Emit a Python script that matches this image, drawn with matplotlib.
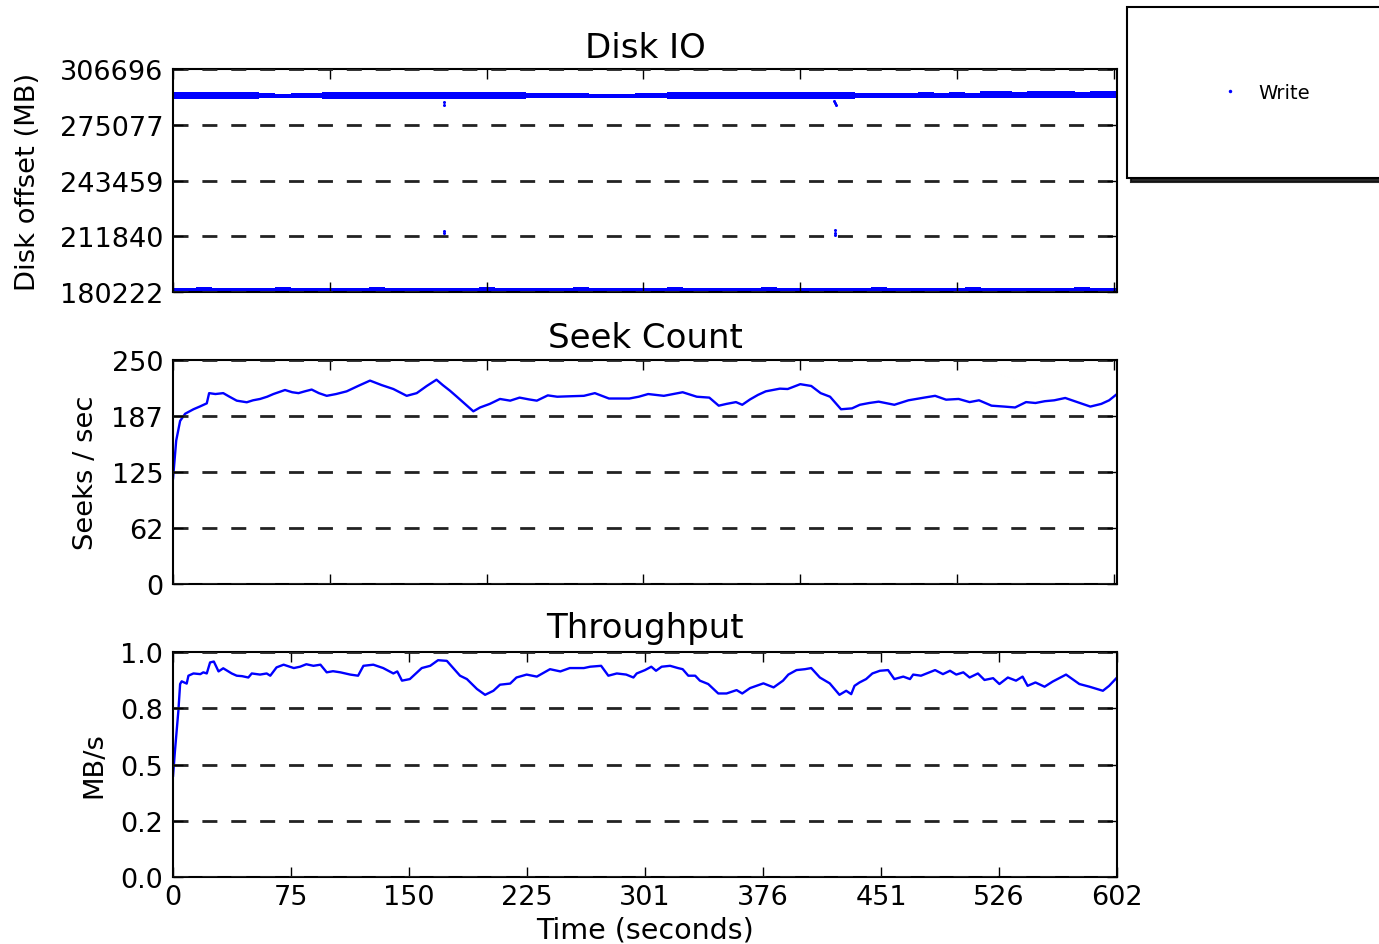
import matplotlib
matplotlib.use("Agg")
import matplotlib.pyplot as plt
from matplotlib.lines import Line2D
from matplotlib.ticker import FormatStrFormatter
import numpy as np

# ---- data ----
time_max = 602
disk_lo, disk_hi = 180222, 306696
seek_max = 250
tput_max = 1.0

# write band samples, one every 10 s
band_t = list(range(0, 601, 10))
band_hi = [292700, 292500, 292800, 292600, 292700, 292400, 291800, 291600, 291700, 291900,
           292600, 292800, 292500, 292700, 292600, 292400, 292700, 292600, 292800, 292500,
           292600, 292700, 292400, 292100, 291900, 292200, 291700, 291600, 291500, 291600,
           291800, 291700, 292500, 292700, 292600, 292800, 292500, 292700, 292600, 292800,
           292700, 292500, 292600, 292700, 291900, 291800, 291900, 292200, 292300, 292100,
           292400, 292200, 292900, 293000, 292800, 293100, 292900, 293000, 292800, 293100, 292900]
band_lo = [290900, 291000, 290800, 291100, 290900, 291000, 291400, 291300, 291200, 291400,
           290900, 291100, 290800, 291000, 290900, 291100, 290800, 291000, 290900, 291100,
           290800, 291000, 291100, 291300, 291200, 291400, 291300, 291200, 291300, 291200,
           291400, 291300, 291000, 290900, 291100, 290800, 291000, 290900, 291100, 290900,
           291000, 291100, 290800, 291000, 291300, 291400, 291200, 291300, 291200, 291400,
           291300, 291200, 291400, 291300, 291500, 291400, 291300, 291500, 291400, 291300, 291400]
band_low = [181600, 181500, 181700, 181600, 181400, 181600, 181500, 181700, 181600, 181500,
            181600, 181400, 181500, 181700, 181600, 181500, 181600, 181400, 181600, 181500,
            181700, 181500, 181600, 181400, 181500, 181600, 181700, 181500, 181600, 181400,
            181600, 181500, 181700, 181600, 181500, 181400, 181600, 181500, 181700, 181600,
            181500, 181600, 181400, 181500, 181600, 181700, 181500, 181600, 181400, 181600,
            181500, 181700, 181600, 181500, 181600, 181400, 181600, 181500, 181700, 181600, 181500]

# stray writes
stray_t = [172.5, 172.5, 172.5, 172.5, 421.5, 422.0, 422.5, 422.0, 422.0, 422.0]
stray_mb = [288100, 286300, 215000, 213700, 288600, 287400, 286300, 215500, 213900, 212300]

# seeks per second
seek_t = [0, 2, 4.5, 7.7, 13, 17, 21.5, 23, 27, 32, 36, 40.6, 47, 51, 55.5, 60, 64, 71.4,
          76, 80, 84, 88.4, 93, 98, 104, 110.7, 118, 125.6, 133, 140.5, 149, 155.4, 161.8,
          168, 172, 176.6, 181, 185, 191.5, 195.8, 202, 208.5, 215, 221, 227, 232, 239, 245,
          253, 262, 269, 278, 291, 297, 303, 313, 325, 334, 342, 348, 353, 359, 363, 368,
          373, 378, 387, 392, 400, 407, 413, 419, 426, 433, 438, 444, 450, 460, 469, 479,
          486, 493, 501, 508, 514, 522, 530, 537, 544, 550, 556, 562, 569, 575, 580, 585,
          592, 597, 602]
seek_v = [118, 160, 182, 190, 195, 198, 201.6, 213, 212, 213, 209, 204.6, 202.8, 205, 206.5,
          209, 212, 216.5, 214, 213, 215, 217, 213, 210, 212, 215, 221, 227, 222, 217.6, 210,
          213, 221, 228, 222, 215.7, 209, 202.8, 192.7, 197, 201, 206.5, 204.6, 208, 206,
          204.6, 210.5, 209, 209.5, 210, 213, 207, 207, 209, 212, 210, 214, 209, 208, 199,
          201, 203, 200, 206, 211, 215, 218, 217.6, 223, 221, 213, 209, 195, 196, 200, 202,
          203.5, 200, 205, 208, 210, 205.7, 206.5, 203, 205, 199, 198, 197, 203, 202, 204,
          205, 207.6, 204, 201, 198, 201, 205, 212]

# throughput MB/s
tput_t = [0, 1.2, 2.3, 3.4, 4.5, 5.5, 8.7, 9.8, 13, 17.4, 19.3, 21.5, 23.6, 26, 29, 32, 37.4,
          40.6, 44, 48, 50.2, 55.5, 59.7, 62, 66, 70.5, 77, 81, 85, 89.5, 94, 98, 102, 106.7,
          113, 118, 121.4, 127.7, 134, 140.5, 143, 146, 151, 158.6, 164, 169, 174.6, 183,
          187.4, 193.8, 199, 204.3, 208.5, 215, 219, 225.5, 232, 240.4, 247, 253, 262, 266,
          273, 277.6, 283, 289, 293.6, 295.7, 301, 305, 308, 311.6, 317, 322, 325, 328.6,
          333, 336, 341.3, 347.7, 353, 359.4, 363, 368, 376.5, 383, 389, 392.4, 397.6, 403,
          407, 412.5, 418.8, 425, 429.3, 432.5, 434.6, 437.8, 442, 446, 450.8, 456, 460,
          465.7, 470, 472, 477, 480.6, 486, 491, 495.5, 499.5, 504, 508, 513.3, 517.5, 523,
          527, 532.4, 537.6, 541.8, 545, 550, 555.8, 561, 569.5, 578, 584.5, 593, 597, 602]
tput_v = [0.45, 0.56, 0.65, 0.74, 0.858, 0.87, 0.86, 0.895, 0.905, 0.902, 0.91, 0.905, 0.954,
          0.958, 0.914, 0.928, 0.905, 0.895, 0.893, 0.887, 0.905, 0.9, 0.905, 0.895, 0.932,
          0.944, 0.929, 0.935, 0.946, 0.939, 0.944, 0.91, 0.915, 0.91, 0.9, 0.895, 0.939,
          0.944, 0.929, 0.905, 0.914, 0.873, 0.88, 0.929, 0.939, 0.964, 0.961, 0.895, 0.88,
          0.836, 0.81, 0.828, 0.855, 0.86, 0.887, 0.9, 0.891, 0.924, 0.914, 0.929, 0.929,
          0.935, 0.939, 0.895, 0.905, 0.9, 0.887, 0.905, 0.92, 0.935, 0.917, 0.935, 0.939,
          0.929, 0.924, 0.895, 0.895, 0.873, 0.858, 0.816, 0.816, 0.831, 0.816, 0.84, 0.861,
          0.843, 0.873, 0.9, 0.92, 0.924, 0.929, 0.887, 0.861, 0.81, 0.828, 0.813, 0.85,
          0.865, 0.88, 0.905, 0.917, 0.92, 0.88, 0.891, 0.88, 0.9, 0.895, 0.905, 0.92, 0.902,
          0.917, 0.9, 0.91, 0.887, 0.905, 0.876, 0.884, 0.858, 0.887, 0.873, 0.891, 0.85,
          0.865, 0.846, 0.869, 0.9, 0.858, 0.846, 0.828, 0.85, 0.887]

# ---- figure ----
fig = plt.figure(figsize=(13.79, 9.45), dpi=100)
ax1 = fig.add_axes([0.1255, 0.6899, 0.6845, 0.236])
ax2 = fig.add_axes([0.1255, 0.381, 0.6845, 0.237])
ax3 = fig.add_axes([0.1255, 0.0709, 0.6845, 0.238])

tick_fs = 19.5
label_fs = 19.7
title_fs = 24.5
grid_style = dict(linestyle=(0, (5.4, 5.0)), linewidth=2.0, color="#222222")

# flat rectangle marker so the 10 s samples join into a band
band_marker = [(-1, -0.19), (1, -0.19), (1, 0.19), (-1, 0.19), (-1, -0.19)]
for vals in (band_hi, band_lo, band_low):
    ax1.plot(band_t, vals, ls="", marker=band_marker, ms=11.5, mew=0, color="blue")
ax1.plot(stray_t, stray_mb, ls="", marker="o", ms=2.2, mew=0, color="blue")

ax2.plot(seek_t, seek_v, color="blue", lw=1.7)
ax3.plot(tput_t, tput_v, color="blue", lw=1.7)

for ax in (ax1, ax2, ax3):
    ax.set_xlim(0, time_max)
    ax.yaxis.grid(True, **grid_style)
    ax.xaxis.grid(False)
    ax.set_axisbelow(False)
    ax.tick_params(direction="in", length=7, width=1, top=True, right=True, labelsize=tick_fs)
    ax.tick_params(axis="y", pad=7)
    ax.tick_params(axis="x", pad=5)
    for sp in ax.spines.values():
        sp.set_linewidth(1.5)

ax1.set_ylim(disk_lo, disk_hi)
ax1.set_yticks(np.linspace(disk_lo, disk_hi, 5))
ax1.yaxis.set_major_formatter(FormatStrFormatter("%d"))
ax1.tick_params(labelbottom=False)
ax1.set_title("Disk IO", fontsize=title_fs, pad=9)
ax1.set_ylabel("Disk offset (MB)", fontsize=label_fs)
ax1.yaxis.set_label_coords(-0.14, 0.5)

ax2.set_ylim(0, seek_max)
ax2.set_yticks(np.linspace(0, seek_max, 5))
ax2.yaxis.set_major_formatter(FormatStrFormatter("%d"))
ax2.tick_params(labelbottom=False)
ax2.set_title("Seek Count", fontsize=title_fs, pad=9)
ax2.set_ylabel("Seeks / sec", fontsize=label_fs)
ax2.yaxis.set_label_coords(-0.078, 0.5)

ax3.set_ylim(0, tput_max)
ax3.set_yticks(np.linspace(0, tput_max, 5))
ax3.yaxis.set_major_formatter(FormatStrFormatter("%.1f"))
ax3.set_xticks(np.linspace(0, time_max, 9))
ax3.xaxis.set_major_formatter(FormatStrFormatter("%d"))
ax3.set_title("Throughput", fontsize=title_fs, pad=11)
ax3.set_ylabel("MB/s", fontsize=label_fs)
ax3.yaxis.set_label_coords(-0.07, 0.5)
ax3.set_xlabel("Time (seconds)", fontsize=20.5, labelpad=4)

# legend box up in the top-right corner
handle = Line2D([], [], ls="", marker="o", ms=2.5, mew=0, color="blue")
leg = fig.legend([handle], ["Write"], loc="upper left",
                 bbox_to_anchor=(0.8173, 0.9915, 0.30, 0), mode="expand",
                 borderaxespad=0, borderpad=3.9, handlelength=2.8, handletextpad=0.05,
                 fontsize=14, fancybox=False, framealpha=1,
                 shadow={"ox": 3, "oy": -3, "color": "#111111", "alpha": 0.9})
leg.get_frame().set_edgecolor("black")
leg.get_frame().set_linewidth(1.5)

fig.savefig("out.png", dpi=100)
